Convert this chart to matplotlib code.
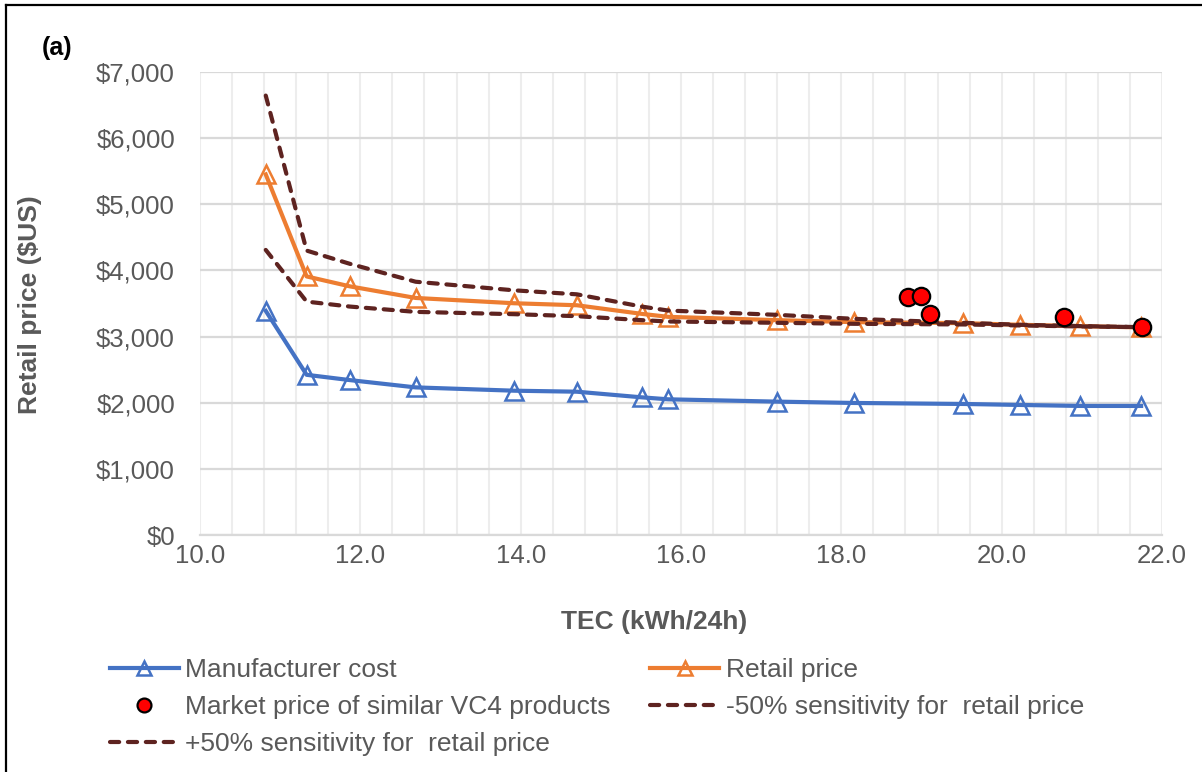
import matplotlib
matplotlib.use("Agg")
import matplotlib.pyplot as plt
from matplotlib.lines import Line2D
from matplotlib.ticker import MultipleLocator, FuncFormatter

plt.rcParams['font.family'] = ['Liberation Sans', 'DejaVu Sans']

# TEC values (kWh/24h) of the modelled designs
tec = [10.82, 11.33, 11.87, 12.69, 13.92, 14.70, 15.51, 15.84, 17.20, 18.16, 19.52, 20.23, 20.98, 21.74]
manufacturer_cost = [3390, 2425, 2345, 2235, 2185, 2170, 2085, 2055, 2020, 2000, 1985, 1970, 1955, 1955]
retail_price = [5450, 3910, 3760, 3585, 3505, 3475, 3345, 3300, 3250, 3220, 3205, 3180, 3160, 3140]
minus50 = [4310, 3530, 3455, 3375, 3340, 3310, 3250, 3230, 3210, 3195, 3185, 3170, 3155, 3145]
plus50 = [6640, 4300, 4100, 3830, 3700, 3640, 3455, 3395, 3330, 3270, 3210, 3180, 3160, 3145]

# market products
market_tec = [18.83, 18.99, 19.11, 20.78, 21.75]
market_price = [3600, 3610, 3345, 3300, 3150]

blue = '#4472C4'
orange = '#ED7D31'
dark = '#5E2320'
grey_txt = '#595959'
dash = (0, (2.2, 2.1))

fig = plt.figure(figsize=(12.02, 7.72), dpi=100)
ax = fig.add_axes([0.1664, 0.3064, 0.8003, 0.6007])

l1, = ax.plot(tec, manufacturer_cost, color=blue, lw=3.0, marker='^', ms=13,
              mfc='none', mec=blue, mew=1.8, label='Manufacturer cost', zorder=3)
l2, = ax.plot(tec, retail_price, color=orange, lw=3.0, marker='^', ms=13,
              mfc='none', mec=orange, mew=1.8, label='Retail price', zorder=3)
l4, = ax.plot(tec, minus50, color=dark, lw=3.0, ls=dash, dash_capstyle='round',
              label='-50% sensitivity for  retail price', zorder=4)
l5, = ax.plot(tec, plus50, color=dark, lw=3.0, ls=dash, dash_capstyle='round',
              label='+50% sensitivity for  retail price', zorder=4)
l3, = ax.plot(market_tec, market_price, ls='none', marker='o', ms=12.5, mfc='#FF0000',
              mec='black', mew=1.6, label='Market price of similar VC4 products', zorder=5)

ax.set_xlim(10, 22)
ax.set_ylim(0, 7000)
ax.xaxis.set_major_locator(MultipleLocator(2))
ax.xaxis.set_minor_locator(MultipleLocator(0.4))
ax.yaxis.set_major_locator(MultipleLocator(1000))
ax.xaxis.set_major_formatter(FuncFormatter(lambda v, p: '%.1f' % v))
ax.yaxis.set_major_formatter(FuncFormatter(lambda v, p: '${:,.0f}'.format(v)))

# grid: light verticals every 0.4, grey horizontals every 1000
ax.grid(True, which='both', axis='x', color='#EDEDED', lw=1.5, zorder=0)
ax.grid(True, which='major', axis='y', color='#D9D9D9', lw=1.6, zorder=0)
ax.set_axisbelow(True)
for s in ['left', 'right', 'top']:
    ax.spines[s].set_visible(False)
ax.spines['bottom'].set_color('#D9D9D9')
ax.spines['bottom'].set_linewidth(1.6)
ax.tick_params(which='both', length=0)
ax.tick_params(axis='x', pad=6, labelsize=18.5, labelcolor=grey_txt)
ax.tick_params(axis='y', pad=18, labelsize=18.5, labelcolor=grey_txt)

fig.text(654 / 1202, 1 - 622 / 772, 'TEC (kWh/24h)', ha='center', va='center',
         fontsize=19, fontweight='bold', color=grey_txt)
fig.text(30 / 1202, 1 - 305 / 772, 'Retail price ($US)', ha='center', va='center',
         rotation=90, fontsize=19, fontweight='bold', color=grey_txt)
fig.text(42 / 1202, 1 - 48 / 772, '(a)', ha='left', va='center', fontsize=18,
         fontweight='bold', color='black')

# legend, column-major order so rows read like the original
leg = fig.legend(handles=[l1, l3, l5, l2, l4], ncol=2, loc='upper left',
                 bbox_to_anchor=(110 / 1202, 1 - 658 / 772), frameon=False,
                 fontsize=19, handlelength=2.6, handletextpad=0.25,
                 columnspacing=1.5, labelspacing=0.5, markerscale=0.8,
                 borderpad=0, borderaxespad=0)
for t in leg.get_texts():
    t.set_color(grey_txt)

# black frame on the left and top of the figure
fig.add_artist(Line2D([6 / 1202, 6 / 1202], [0, 1 - 5 / 772], color='black', lw=1.6))
fig.add_artist(Line2D([6 / 1202, 1], [1 - 5 / 772, 1 - 5 / 772], color='black', lw=1.6))

plt.savefig('out.png', dpi=100)
